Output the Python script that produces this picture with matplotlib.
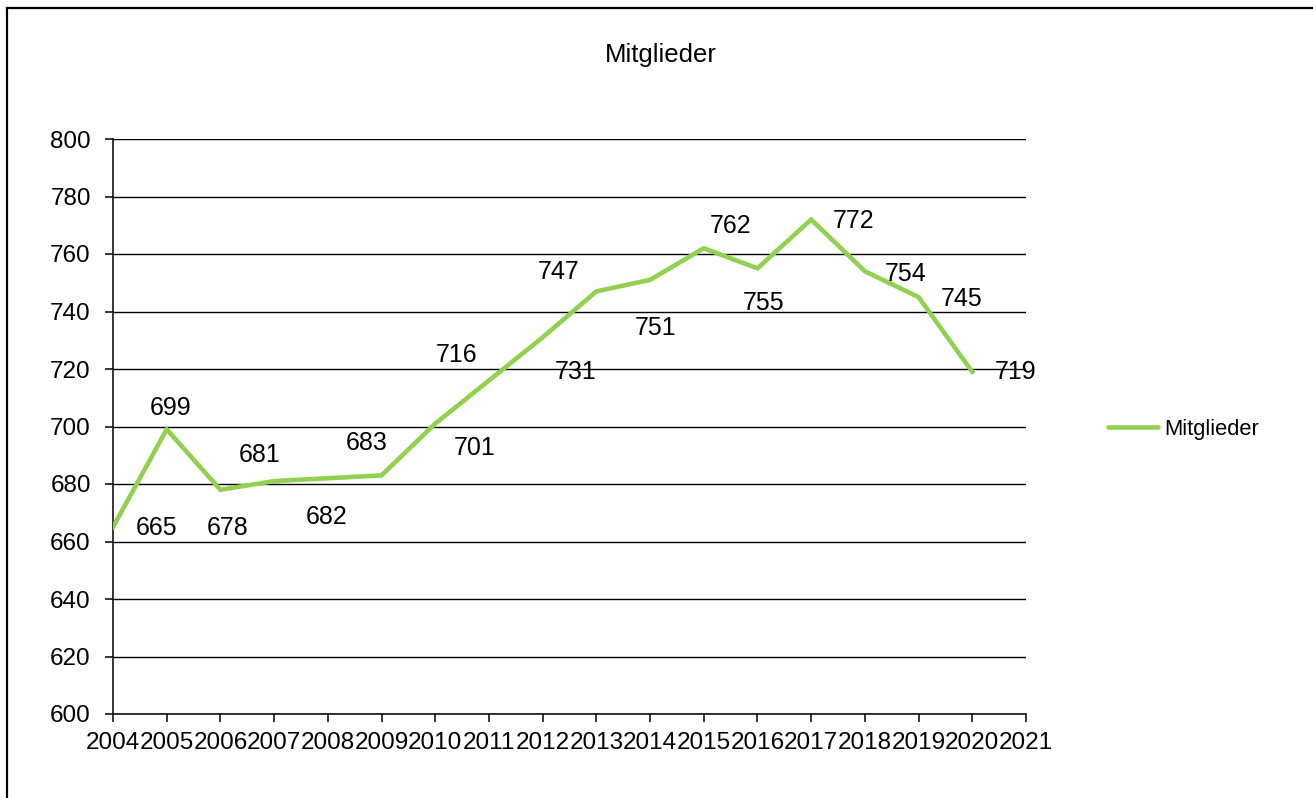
import matplotlib
matplotlib.use("Agg")
import matplotlib.pyplot as plt
from matplotlib.lines import Line2D

plt.rcParams['font.family'] = ['Liberation Sans', 'DejaVu Sans']

years = [2004, 2005, 2006, 2007, 2008, 2009, 2010, 2011, 2012, 2013, 2014,
         2015, 2016, 2017, 2018, 2019, 2020]
members = [665, 699, 678, 681, 682, 683, 701, 716, 731, 747, 751,
           762, 755, 772, 754, 745, 719]
tick_years = list(range(2004, 2022))
y_ticks = list(range(600, 801, 20))
title = "Mitglieder"
series_name = "Mitglieder"

# label offsets in pixels (dx right, dy down)
label_offsets = [(44, 1), (4, -21), (7, 38), (-14, -26), (-1, 39), (-15, -32),
                 (39, 24), (-32, -25), (33, 35), (-38, -19), (6, 48),
                 (27, -22), (6, 35), (42, 2), (41, 3), (43, 2), (43, 0)]

W, H = 1313, 798
fig = plt.figure(figsize=(W / 100, H / 100), dpi=100)
ax = fig.add_axes([113 / W, (H - 714) / H, (1026 - 113) / W, (714 - 139) / H])

color = '#92D050'
ax.plot(years, members, color=color, lw=3.3, solid_joinstyle='miter',
        zorder=3, label=series_name)

ax.set_xlim(2004, 2021)
ax.set_ylim(600, 800)
ax.set_xticks(tick_years)
ax.set_xticklabels([str(y) for y in tick_years])
ax.set_yticks(y_ticks)
ax.grid(axis='y', color='black', lw=1.0)
ax.set_axisbelow(True)
for s in ['top', 'right']:
    ax.spines[s].set_visible(False)
for s in ['left', 'bottom']:
    ax.spines[s].set_color('black')
    ax.spines[s].set_linewidth(1.1)
ax.tick_params(axis='both', direction='out', length=5.5, width=1.1,
               labelsize=17.5, colors='black')
ax.tick_params(axis='x', pad=7.5)
ax.tick_params(axis='y', pad=10.5)

for x, v, (dx, dy) in zip(years, members, label_offsets):
    ax.annotate(str(v), (x, v), xytext=(dx, -dy), textcoords='offset pixels',
                ha='center', va='center', fontsize=18, color='black', zorder=4)

fig.text(661 / W, 1 - 55 / H, title, ha='center', va='center', fontsize=18.5)

handle = Line2D([], [], color=color, lw=3.3, solid_capstyle='round')
fig.legend([handle], [series_name], loc='center left',
           bbox_to_anchor=(1108 / W, 1 - 429 / H), frameon=False,
           fontsize=15.8, handlelength=2.3, handletextpad=0.25,
           borderpad=0, borderaxespad=0)

# outer frame (left and top edges visible)
fig.add_artist(Line2D([7 / W, 7 / W], [0, 1 - 8 / H], color='black', lw=1.6,
                      transform=fig.transFigure))
fig.add_artist(Line2D([7 / W, 1], [1 - 8 / H, 1 - 8 / H], color='black', lw=1.6,
                      transform=fig.transFigure))

fig.savefig('out.png', dpi=100)
